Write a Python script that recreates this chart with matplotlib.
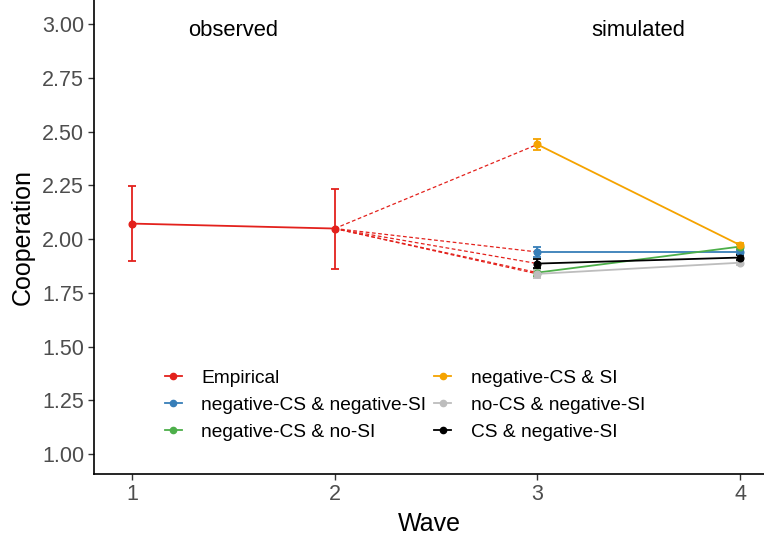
import numpy as np
import matplotlib
matplotlib.use("Agg")
import matplotlib.pyplot as plt
from matplotlib.lines import Line2D

plt.rcParams['font.family'] = ['Liberation Sans', 'DejaVu Sans']

# observed data (waves 1-2)
obs_waves = [1, 2]
obs_mean = [2.072, 2.049]
obs_lo = [1.900, 1.862]
obs_hi = [2.245, 2.235]

# simulated scenarios (waves 3-4)
sim_waves = [3, 4]
sim_names = ["negative-CS & negative-SI", "negative-CS & no-SI", "negative-CS & SI",
             "no-CS & negative-SI", "CS & negative-SI"]
sim_colors = ["#377EB8", "#4DAF4A", "#F5A300", "#BDBDBD", "#000000"]
sim_mean = [[1.940, 1.940], [1.844, 1.965], [2.440, 1.972], [1.838, 1.890], [1.886, 1.914]]
sim_err = [[0.025, 0.010], [0.015, 0.010], [0.025, 0.012], [0.020, 0.010], [0.020, 0.010]]

red = "#E3211C"
lw = 1.3

fig = plt.figure(figsize=(7.64, 5.43), dpi=100)
ax = fig.add_axes([0.123, 0.127, 0.877, 0.873])

# dashed connectors from last observed wave to first simulated wave
for m in sim_mean:
    ax.plot([obs_waves[-1], sim_waves[0]], [obs_mean[-1], m[0]], color=red,
            lw=0.9, ls=(0, (3, 2)), zorder=1)

# observed
yerr = [np.array(obs_mean) - np.array(obs_lo), np.array(obs_hi) - np.array(obs_mean)]
ax.errorbar(obs_waves, obs_mean, yerr=yerr, color=red, lw=lw, marker='o', ms=4.8,
            capsize=3.2, capthick=lw, elinewidth=lw, zorder=3)

# simulated
for name, c, m, e in zip(sim_names, sim_colors, sim_mean, sim_err):
    ax.errorbar(sim_waves, m, yerr=e, color=c, lw=lw, marker='o', ms=4.8,
                capsize=3.2, capthick=lw, elinewidth=lw, zorder=3)

ax.text(1.5, 2.97, "observed", ha='center', va='center', fontsize=15.8)
ax.text(3.5, 2.97, "simulated", ha='center', va='center', fontsize=15.8)

ax.set_xlim(0.8125, 4.118)
ax.set_ylim(0.907, 3.112)
ax.set_xticks([1, 2, 3, 4])
ax.set_yticks(np.arange(1.0, 3.01, 0.25))
ax.set_yticklabels([f"{v:.2f}" for v in np.arange(1.0, 3.01, 0.25)])
ax.tick_params(axis='both', labelsize=15.5, labelcolor='#4D4D4D', color='#333333',
               length=4, width=1, pad=3)
ax.set_xlabel("Wave", fontsize=18, labelpad=5)
ax.set_ylabel("Cooperation", fontsize=18, labelpad=5)
for s in ['top', 'right']:
    ax.spines[s].set_visible(False)
for s in ['left', 'bottom']:
    ax.spines[s].set_linewidth(1.2)

order = ["Empirical", "negative-CS & negative-SI", "negative-CS & no-SI",
         "negative-CS & SI", "no-CS & negative-SI", "CS & negative-SI"]
color_of = dict(zip(sim_names, sim_colors))
color_of["Empirical"] = red
hs = [Line2D([], [], color=color_of[n], lw=lw, marker='o', ms=4.5) for n in order]
ax.legend(hs, order, ncol=2, frameon=False, fontsize=13.8,
          loc='upper left', bbox_to_anchor=(0.094, 0.237),
          handlelength=0.9, handletextpad=1.0, columnspacing=0.42,
          labelspacing=0.5, borderaxespad=0)

fig.savefig("out.png", dpi=100)
